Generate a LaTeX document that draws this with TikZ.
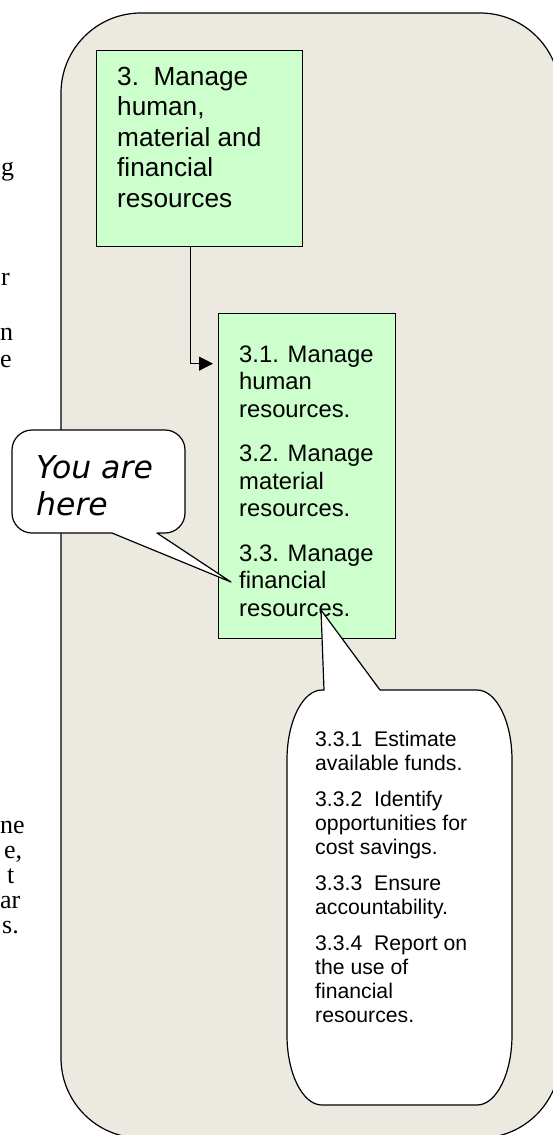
\documentclass[tikz,border=0pt]{standalone}
\usepackage{fontspec}
\setmainfont{Liberation Sans}
\newfontfamily\bodyserif{Liberation Serif}
\newfontfamily\verdlike{DejaVu Sans}
\usetikzlibrary{arrows.meta}
\definecolor{panel}{HTML}{ECE9E0}
\definecolor{mint}{HTML}{CCFFCC}
\tikzset{
  gbox/.style={draw=black, line width=1.3pt, fill=mint, inner sep=0pt, anchor=north west},
  txtA/.style={inner sep=0pt, anchor=base west, align=left, font=\fontsize{26.2}{30.5}\selectfont},
  txtB/.style={inner sep=0pt, anchor=base west, align=left, font=\fontsize{23.8}{27.5}\selectfont},
  txtC/.style={inner sep=0pt, anchor=base west, align=left, font=\fontsize{21.2}{24}\selectfont},
  txtY/.style={inner sep=0pt, anchor=base west, align=left, font=\verdlike\itshape\fontsize{31.5}{37}\selectfont},
  frag/.style={inner sep=0pt, anchor=base west, font=\bodyserif\fontsize{26}{30}\selectfont},
  bubble/.style={draw=black, line width=1.2pt, fill=white, line join=round},
  conn/.style={draw=black, line width=1pt, -{Triangle[length=14pt,width=14pt]}, shorten >=5pt}
}
\begin{document}
\begin{tikzpicture}[x=1pt,y=-1pt]
\useasboundingbox (0,0) rectangle (553,1135);
\fill[white] (0,0) rectangle (553,1135);
% outer panel
\draw[fill=panel, line width=1.2pt, rounded corners=80pt] (61,13) rectangle (560,1138);
% page text fragments cut off at the left edge
\node[frag] (f1) at (1,175) {g};
\node[frag] (f2) at (1,285) {r};
\node[frag] (f3) at (0,340) {n};
\node[frag] (f4) at (0,367) {e};
\node[frag] (f5) at (0,833) {ne};
\node[frag] (f6) at (4,858) {e,};
\node[frag] (f7) at (7,883) {t};
\node[frag] (f8) at (0,908) {ar};
\node[frag] (f9) at (2,933) {s.};
% boxes (multi-line text nodes: base anchor is the last line)
\node[gbox, minimum width=206pt, minimum height=196pt] (b1) at (96,50) {};
\node[txtA] (t1) at (117,207) {3.\ \ Manage\\human,\\material and\\financial\\resources};
\node[gbox, minimum width=177pt, minimum height=325pt] (b2) at (218,313) {};
\node[txtB] (t2) at (239,616) {3.1. Manage\\human\\resources.\\[17pt]3.2. Manage\\material\\resources.\\[17pt]3.3. Manage\\financial\\resources.};
% connector
\draw[conn] ([xshift=-9pt]b1.south) |- ([yshift=112.5pt]b2.west);
% callout "You are here"
\draw[bubble] (32,430) -- (165,430) .. controls (176,430) and (185,439) .. (185,450) -- (185,513) .. controls (185,524) and (176,533) .. (165,533) -- (157,533) -- (231,582) -- (112,533) -- (32,533) .. controls (21,533) and (12,524) .. (12,513) -- (12,450) .. controls (12,439) and (21,430) .. (32,430) -- cycle;
\node[txtY] (ty) at (36,515) {You are\\here};
% callout with sub-steps
\draw[bubble] (322,690) -- (324,690) -- (321,610) -- (380,690) -- (477,690) .. controls (496.3,690) and (512,721.3) .. (512,760) -- (512,1035) .. controls (512,1073.7) and (496.3,1105) .. (477,1105) -- (322,1105) .. controls (302.7,1105) and (287,1073.7) .. (287,1035) -- (287,760) .. controls (287,721.3) and (302.7,690) .. (322,690) -- cycle;
\node[txtC] (tc) at (315,1022) {3.3.1\ \ Estimate\\available funds.\\[12pt]3.3.2\ \ Identify\\opportunities for\\cost savings.\\[12pt]3.3.3\ \ Ensure\\accountability.\\[12pt]3.3.4\ \ Report on\\the use of\\financial\\resources.};
\end{tikzpicture}
\end{document}
